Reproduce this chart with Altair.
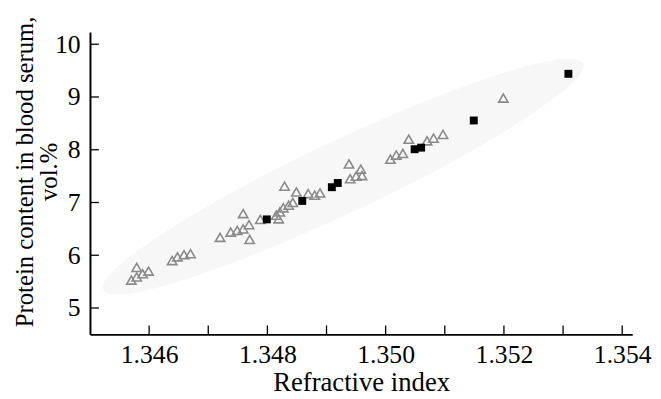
import altair as alt
import pandas as pd

# ---- data ----
tri_x = [1.34570, 1.34579, 1.34589, 1.34599, 1.34579,
         1.34639, 1.34648, 1.34659, 1.34670,
         1.34720, 1.34738, 1.34749, 1.34759, 1.34769, 1.34770, 1.34759, 1.34788,
         1.34815, 1.34819, 1.34821, 1.34827, 1.34836, 1.34843, 1.34829,
         1.34849, 1.34869, 1.34880, 1.34889,
         1.34938, 1.34958, 1.34940, 1.34950, 1.34960,
         1.35008, 1.35018, 1.35029, 1.35039, 1.35070, 1.35081, 1.35097,
         1.35199]
tri_y = [5.53, 5.59, 5.65, 5.70, 5.77,
         5.90, 5.97, 6.01, 6.03,
         6.34, 6.44, 6.47, 6.50, 6.58, 6.30, 6.79, 6.68,
         6.76, 6.69, 6.82, 6.90, 6.95, 7.00, 7.31,
         7.20, 7.17, 7.14, 7.18,
         7.73, 7.63, 7.45, 7.50, 7.51,
         7.82, 7.90, 7.93, 8.20, 8.17, 8.22, 8.29,
         8.98]
sq_x = [1.34799, 1.34859, 1.34909, 1.34919, 1.35049, 1.35060, 1.35149, 1.35309]
sq_y = [6.68, 7.03, 7.29, 7.37, 8.01, 8.04, 8.555, 9.44]

# faint background ellipse outline (estimated vertices)
ell_x = [1.35333, 1.35312, 1.35232, 1.35107, 1.34953, 1.34796, 1.34660, 1.34564,
         1.34523, 1.34544, 1.34624, 1.34749, 1.34902, 1.35059, 1.35196, 1.35292]
ell_y = [9.634, 9.236, 8.574, 7.747, 6.880, 6.107, 5.546, 5.278,
         5.349, 5.747, 6.409, 7.236, 8.103, 8.876, 9.437, 9.705]

x_ticks = [1.346, 1.347, 1.348, 1.349, 1.350, 1.351, 1.352, 1.353, 1.354]
x_labels = [1.346, 1.348, 1.350, 1.352, 1.354]
y_ticks = [5, 6, 7, 8, 9, 10]

W, H = 549, 306
FONT = "Liberation Serif"

tri = pd.DataFrame({"x": tri_x, "y": tri_y})
sq = pd.DataFrame({"x": sq_x, "y": sq_y})
ell = pd.DataFrame({"x": ell_x, "y": ell_y, "i": list(range(len(ell_x)))})
xt = pd.DataFrame({"x": x_ticks})
yt = pd.DataFrame({"y": y_ticks})

xs = alt.Scale(domain=[1.345, 1.35417], nice=False, zero=False)
ys = alt.Scale(domain=[4.5, 10.23], nice=False, zero=False)

ax_x = alt.Axis(
    values=x_labels, format=".3f", title="Refractive index",
    ticks=False, tickSize=0, grid=False, domainColor="black", domainWidth=2,
    labelFont=FONT, labelFontSize=26, labelColor="black", labelPadding=7,
    labelFlush=False, labelOverlap=False,
    titleFont=FONT, titleFontSize=27, titleFontWeight="normal", titleColor="black",
    titleY=57, titleBaseline="alphabetic")
ax_y = alt.Axis(
    values=y_ticks, title=["Protein content in blood serum,", "vol.%"],
    ticks=False, tickSize=0, grid=False, domainColor="black", domainWidth=2,
    labelFont=FONT, labelFontSize=26, labelColor="black", labelPadding=10,
    labelFlush=False, labelOverlap=False,
    titleFont=FONT, titleFontSize=25, titleFontWeight="normal", titleColor="black",
    titleX=-66, titleY=141, titleBaseline="middle", titleLineHeight=24,
    titleAngle=270)

X = alt.X("x:Q", scale=xs, axis=ax_x, title="Refractive index")
Y = alt.Y("y:Q", scale=ys, axis=ax_y, title=["Protein content in blood serum,", "vol.%"])

ellipse = alt.Chart(ell).mark_line(
    interpolate="cardinal-closed", fill="#f7f7f7", stroke="#f7f7f7", strokeWidth=1
).encode(x=X, y=Y, order="i:Q")

xtick = alt.Chart(xt).mark_rule(color="black", strokeWidth=1.3).encode(
    x=X, y=alt.value(H), y2=alt.value(H - 9),
)
ytick = alt.Chart(yt).mark_rule(color="black", strokeWidth=1.3).encode(
    y=Y, x=alt.value(0), x2=alt.value(9),
)

triangles = alt.Chart(tri).mark_point(
    shape="triangle-up", filled=False, stroke="#8a8a8a", strokeWidth=1.6, size=90, opacity=1
).encode(x=X, y=Y)

squares = alt.Chart(sq).mark_point(
    shape="square", filled=True, color="black", size=64, opacity=1
).encode(x=X, y=Y)

chart = alt.layer(ellipse, xtick, ytick, triangles, squares).properties(
    width=W, height=H,
    background="white",
    autosize=alt.AutoSizeParams(type="none"),
    padding={"left": 83, "top": 22, "right": 21, "bottom": 63},
).configure_view(stroke=None)

chart.save("out.html", embed_options={"renderer": "svg", "actions": False})
